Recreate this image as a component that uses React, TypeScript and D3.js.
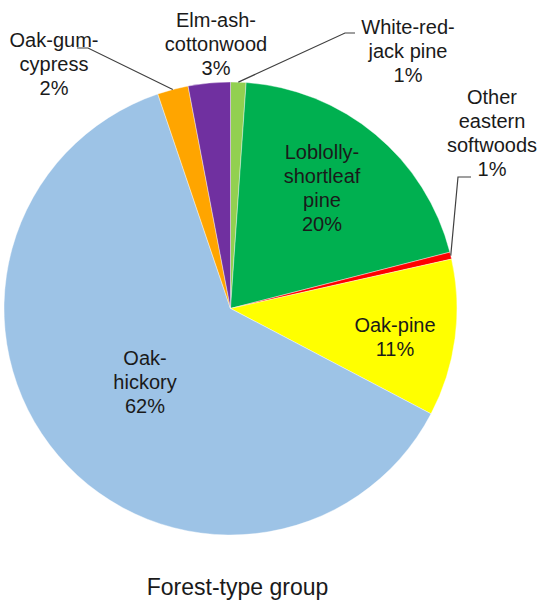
import React from "react";
import * as d3 from "d3";

// Forest-type groups, clockwise from 12 o'clock
const groups = [
  "White-red-jack pine",
  "Loblolly-shortleaf pine",
  "Other eastern softwoods",
  "Oak-pine",
  "Oak-hickory",
  "Oak-gum-cypress",
  "Elm-ash-cottonwood",
];
const shares = [1.1, 19.9, 0.5, 11.2, 62.1, 2.2, 3.0];
const percentLabels = ["1%", "20%", "1%", "11%", "62%", "2%", "3%"];
const colors = ["#92D050", "#00B050", "#FF0000", "#FFFF00", "#9DC3E6", "#FFA500", "#7030A0"];

// Name lines for each group (percentage appended as the last line)
const nameLines = [
  ["White-red-", "jack pine"],
  ["Loblolly-", "shortleaf", "pine"],
  ["Other", "eastern", "softwoods"],
  ["Oak-pine"],
  ["Oak-", "hickory"],
  ["Oak-gum-", "cypress"],
  ["Elm-ash-", "cottonwood"],
];

const W = 537;
const H = 600;
const cx = 230.5;
const cy = 308.5;
const R = 226.5;
const FONT = "'Liberation Sans', Arial, sans-serif";
const TEXT = "#1a1a1a";

// Label anchor positions (first baseline)
const labelPos: [number, number][] = [
  [408, 34],
  [322, 159],
  [492, 104],
  [395, 332],
  [145, 365],
  [54, 47],
  [216, 27],
];

export default function App() {
  const pie = d3
    .pie<number>()
    .sort(null)
    .value((d) => d);
  const arcs = pie(shares);
  const arc = d3.arc<d3.PieArcDatum<number>>().innerRadius(0).outerRadius(R);

  // outer point of a slice, used as the start of a leader line
  const outer = (i: number, frac = 0.5) => {
    const a = arcs[i].startAngle + (arcs[i].endAngle - arcs[i].startAngle) * frac;
    return [cx + R * Math.sin(a), cy - R * Math.cos(a)];
  };
  const wr = outer(0, 0.5);
  const oes = outer(2, 0.5);
  const ogc = outer(5, 0.5);

  return (
    <svg width={W} height={H} style={{ display: "block", position: "absolute", left: 0, top: 0 }}>
      <rect width={W} height={H} fill="#fff" />
      <g transform={`translate(${cx},${cy})`}>
        {arcs.map((a, i) => (
          <path key={groups[i]} d={arc(a) || ""} fill={colors[i]} stroke="#fff" strokeWidth={0.4} />
        ))}
      </g>
      {/* leader lines */}
      <g stroke="#404040" strokeWidth={1.2} fill="none">
        <polyline points={`${wr[0]},${wr[1]} 345,33 355,33`} />
        <polyline points={`${oes[0]},${oes[1]} 458,177 471,177`} />
        <polyline points={`${ogc[0]},${ogc[1]} 88,48 77,48`} />
      </g>
      {nameLines.map((lines, i) => (
        <text
          key={groups[i]}
          x={labelPos[i][0]}
          y={labelPos[i][1]}
          textAnchor="middle"
          fontFamily={FONT}
          fontSize={20}
          fill={TEXT}
        >
          {[...lines, percentLabels[i]].map((l, j) => (
            <tspan key={j} x={labelPos[i][0]} dy={j === 0 ? 0 : 24}>
              {l}
            </tspan>
          ))}
        </text>
      ))}
      <text x={237.5} y={595} textAnchor="middle" fontFamily={FONT} fontSize={23} fill={TEXT}>
        Forest-type group
      </text>
    </svg>
  );
}
